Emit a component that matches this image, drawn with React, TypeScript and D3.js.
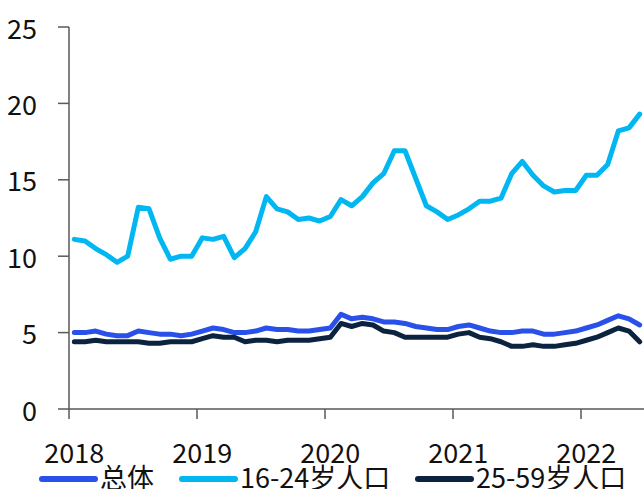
import * as d3 from "d3";
import React from "react";

const years = ["2018", "2019", "2020", "2021", "2022"];
const months = years
  .flatMap((y) => d3.range(1, 13).map((m) => `${y}-${String(m).padStart(2, "0")}`))
  .slice(0, 54);

// 总体
const overall = [
  5.0, 5.0, 5.1, 4.9, 4.8, 4.8, 5.1, 5.0, 4.9, 4.9, 4.8, 4.9,
  5.1, 5.3, 5.2, 5.0, 5.0, 5.1, 5.3, 5.2, 5.2, 5.1, 5.1, 5.2,
  5.3, 6.2, 5.9, 6.0, 5.9, 5.7, 5.7, 5.6, 5.4, 5.3, 5.2, 5.2,
  5.4, 5.5, 5.3, 5.1, 5.0, 5.0, 5.1, 5.1, 4.9, 4.9, 5.0, 5.1,
  5.3, 5.5, 5.8, 6.1, 5.9, 5.5,
];
// 16-24岁人口
const youth = [
  11.1, 11.0, 10.5, 10.1, 9.6, 10.0, 13.2, 13.1, 11.2, 9.8, 10.0, 10.0,
  11.2, 11.1, 11.3, 9.9, 10.5, 11.6, 13.9, 13.1, 12.9, 12.4, 12.5, 12.3,
  12.6, 13.7, 13.3, 13.9, 14.8, 15.4, 16.9, 16.9, 15.1, 13.3, 12.9, 12.4,
  12.7, 13.1, 13.6, 13.6, 13.8, 15.4, 16.2, 15.3, 14.6, 14.2, 14.3, 14.3,
  15.3, 15.3, 16.0, 18.2, 18.4, 19.3,
];
// 25-59岁人口
const prime = [
  4.4, 4.4, 4.5, 4.4, 4.4, 4.4, 4.4, 4.3, 4.3, 4.4, 4.4, 4.4,
  4.6, 4.8, 4.7, 4.7, 4.4, 4.5, 4.5, 4.4, 4.5, 4.5, 4.5, 4.6,
  4.7, 5.6, 5.4, 5.6, 5.5, 5.1, 5.0, 4.7, 4.7, 4.7, 4.7, 4.7,
  4.9, 5.0, 4.7, 4.6, 4.4, 4.1, 4.1, 4.2, 4.1, 4.1, 4.2, 4.3,
  4.5, 4.7, 5.0, 5.3, 5.1, 4.4,
];
const yTicks = [0, 5, 10, 15, 20, 25];

const series = [
  { name: "总体", values: overall, color: "#2950E8" },
  { name: "16-24岁人口", values: youth, color: "#00B7F1" },
  { name: "25-59岁人口", values: prime, color: "#0C2340" },
];

const width = 644;
const height = 489;
const font = "'Noto Sans CJK SC', 'Noto Sans', sans-serif";

export default function App() {
  const x = d3.scaleBand<string>().domain(months).range([69, 645]);
  const y = d3.scaleLinear().domain([0, 25]).range([409, 27]);
  const cx = (i: number) => (x(months[i]) ?? 0) + x.bandwidth() / 2;
  const line = d3
    .line<number>()
    .x((_, i) => cx(i))
    .y((d) => y(d));

  const legendX = [42, 182, 418];
  const axisColor = "#595959";

  return (
    <svg
      width={width}
      height={height}
      style={{ position: "absolute", left: 0, top: 0, background: "#fff" }}
      fontFamily={font}
    >
      {/* y axis */}
      <line x1={69} x2={69} y1={y(25)} y2={y(0)} stroke={axisColor} strokeWidth={1.5} />
      {yTicks.map((t) => (
        <g key={t}>
          <line x1={58} x2={69} y1={y(t)} y2={y(t)} stroke={axisColor} strokeWidth={1.5} />
          <text x={37} y={y(t)} textAnchor="end" dominantBaseline="central" fontSize={27} fill="#111">
            {t}
          </text>
        </g>
      ))}
      {/* x axis */}
      <line x1={69} x2={645} y1={y(0)} y2={y(0)} stroke={axisColor} strokeWidth={1.5} />
      {years.map((yr) => {
        const m = `${yr}-01`;
        const x0 = x(m) ?? 0;
        return (
          <g key={yr}>
            <line x1={x0} x2={x0} y1={y(0)} y2={y(0) + 10} stroke={axisColor} strokeWidth={1.5} />
            <text x={x0 + x.bandwidth() / 2} y={463} textAnchor="middle" fontSize={27} fill="#111">
              {yr}
            </text>
          </g>
        );
      })}
      {/* lines */}
      {series.map((s) => (
        <path
          key={s.name}
          d={line(s.values) ?? undefined}
          fill="none"
          stroke={s.color}
          strokeWidth={5}
          strokeLinejoin="round"
          strokeLinecap="round"
        />
      ))}
      {/* legend */}
      {series.map((s, i) => (
        <g key={s.name}>
          <line
            x1={legendX[i]}
            x2={legendX[i] + 53}
            y1={479}
            y2={479}
            stroke={s.color}
            strokeWidth={6}
            strokeLinecap="round"
          />
          <text x={legendX[i] + 58} y={488} fontSize={27} fill="#111">
            {s.name}
          </text>
        </g>
      ))}
    </svg>
  );
}
